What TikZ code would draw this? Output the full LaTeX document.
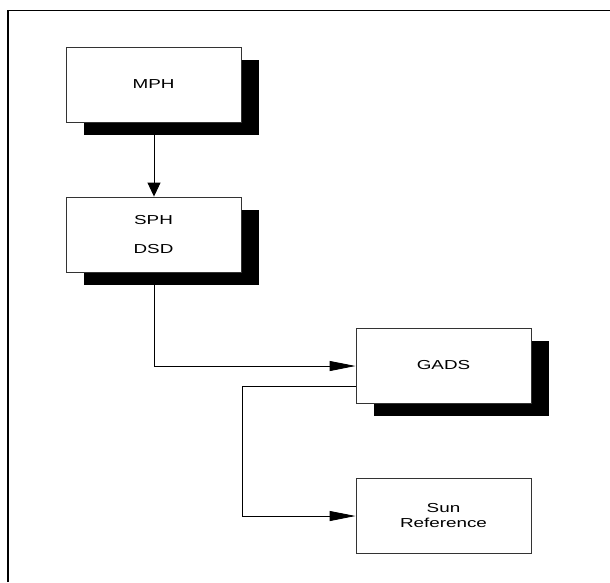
\documentclass[tikz,border=0pt]{standalone}
\usepackage{fontspec}
\setmainfont{Liberation Sans}
\newfontfamily\widefont[FakeStretch=1.45]{Liberation Sans}
\usetikzlibrary{arrows.meta}
\tikzset{
  box/.style={draw=black!80, line width=0.9pt, fill=white, minimum width=175pt, minimum height=75pt, inner sep=0pt, align=center, font=\widefont\fontsize{13}{15.5}\selectfont},
  shadowbox/.style={fill=black, minimum width=175pt, minimum height=75pt, inner sep=0pt},
  conn/.style={line width=0.9pt, draw=black},
  harrow/.style={conn, -{Triangle[length=26pt,width=10pt]}},
  varrow/.style={conn, -{Triangle[length=14pt,width=13pt]}},
  frame/.style={line width=1.3pt, draw=black}
}
\begin{document}
\begin{tikzpicture}[x=1pt,y=-1pt]
\useasboundingbox (0,0) rectangle (610,582);
\fill[white] (0,0) rectangle (610,582);
\draw[frame] (8,582) -- (8,10.5) -- (610,10.5);
% shadows
\node[shadowbox] (mphs) at (171.5,97) {};
\node[shadowbox] (sphs) at (171.5,247.5) {};
\node[shadowbox] (gadss) at (461.5,378.5) {};
% boxes
\node[box] (mph) at (153.5,84.5) {MPH};
\node[box] (sph) at (153.5,234.5) {SPH\\[14pt]DSD};
\node[box] (gads) at (443.5,365.5) {GADS};
\node[box] (sun) at (443.5,515.5) {Sun\\Reference};
% connectors
\coordinate (c1) at (154,366);
\coordinate (c2) at (242,386);
\coordinate (c3) at (242,516);
\draw[varrow] (154,134.5) -- (sph.north -| 154,0);
\draw[harrow] (154,285) -- (c1) -- (gads.west |- c1);
\draw[harrow] (gads.west |- c2) -- (c2) -- (c3) -- (sun.west |- c3);
\end{tikzpicture}
\end{document}
